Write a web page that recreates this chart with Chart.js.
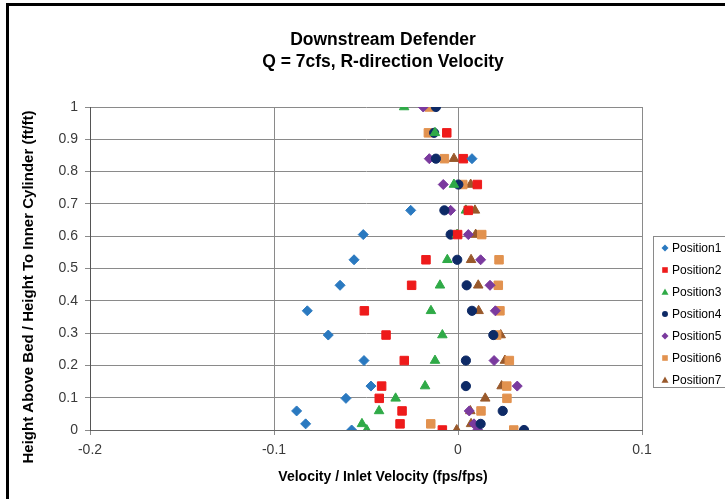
<!DOCTYPE html>
<html>
<head>
<meta charset="utf-8">
<script src="https://cdn.jsdelivr.net/npm/chart.js"></script>
<style>
html,body{margin:0;padding:0;background:#fff;}
canvas{display:block;}
</style>
</head>
<body>
<canvas id="c" width="725" height="499"></canvas>
<script>
// ---- Data ----
const heights = [1.0, 0.92, 0.84, 0.76, 0.68, 0.605, 0.527, 0.448, 0.369, 0.294, 0.215, 0.136, 0.098, 0.059, 0.019, 0];
const position1 = [null, null, 0.0076, null, -0.0257, -0.0515, -0.0565, -0.0641, -0.0819, -0.0705, -0.0511, -0.0473, -0.0609, -0.0877, -0.0828, -0.0578];
const position2 = [null, -0.0061, 0.0029, 0.0105, 0.0056, -0.0002, -0.0174, -0.0252, -0.0509, -0.0391, -0.0292, -0.0415, -0.0428, -0.0304, -0.0315, -0.0085];
const position3 = [-0.0293, -0.0125, null, -0.0022, 0.0043, -0.0005, -0.0058, -0.0098, -0.0147, -0.0085, -0.0125, -0.0179, -0.0339, -0.0429, -0.0522, -0.0496];
const position4 = [-0.012, -0.013, -0.012, 0.0002, -0.0074, -0.004, -0.0004, 0.0047, 0.0076, 0.0192, 0.0043, 0.0043, null, 0.0243, 0.0123, 0.0359];
const position5 = [-0.0189, null, -0.0156, -0.008, -0.004, 0.0056, 0.0123, 0.0174, 0.0203, null, 0.0196, 0.0322, null, 0.0061, 0.0087, 0.0107];
const position6 = [-0.0156, -0.0161, -0.0074, 0.0026, null, 0.0129, 0.0223, 0.0219, 0.0228, 0.021, 0.0279, 0.0265, 0.0266, 0.0125, -0.0148, 0.0303];
const position7 = [null, null, -0.0022, 0.0069, 0.0092, 0.0096, 0.0071, 0.011, 0.0112, 0.0232, 0.0255, 0.0237, 0.0148, 0.0067, 0.0071, -0.0007];
const seriesNames = ['Position1', 'Position2', 'Position3', 'Position4', 'Position5', 'Position6', 'Position7'];
const xTickLabels = ['-0.2', '-0.1', '0', '0.1'];
const yTickLabels = ['0', '0.1', '0.2', '0.3', '0.4', '0.5', '0.6', '0.7', '0.8', '0.9', '1'];
const titleLines = ['Downstream Defender', 'Q = 7cfs, R-direction Velocity'];
const xTitle = 'Velocity / Inlet Velocity (fps/fps)';
const yTitle = 'Height Above Bed / Height To Inner Cylinder (ft/ft)';

// ---- Styles ----
const seriesValues = [position1, position2, position3, position4, position5, position6, position7];
const styles = [
  {shape: 'rectRot', color: '#2A79C0', r: 5},
  {shape: 'rect', color: '#EE1B1B', r: 6},
  {shape: 'triangle', color: '#2FAA47', r: 5.5},
  {shape: 'circle', color: '#0E2A66', r: 4.6},
  {shape: 'rectRot', color: '#7A3A9E', r: 5},
  {shape: 'rect', color: '#E2924F', r: 6},
  {shape: 'triangle', color: '#99592B', r: 5.5}
];
const FONT = '"Liberation Sans", Arial, sans-serif';

const datasets = seriesNames.map((name, i) => ({
  label: name,
  data: heights.map((h, k) => seriesValues[i][k] === null ? null : {x: seriesValues[i][k], y: h}).filter(p => p),
  pointStyle: styles[i].shape,
  pointRadius: styles[i].r,
  pointHoverRadius: styles[i].r,
  backgroundColor: styles[i].color,
  borderColor: styles[i].color,
  borderWidth: 1,
  showLine: false
}));

function drawMarker(ctx, shape, x, y, s, color) {
  ctx.save();
  ctx.fillStyle = color;
  ctx.beginPath();
  if (shape === 'rectRot') {
    ctx.moveTo(x, y - s); ctx.lineTo(x + s, y); ctx.lineTo(x, y + s); ctx.lineTo(x - s, y);
  } else if (shape === 'rect') {
    ctx.rect(x - s * 0.8, y - s * 0.8, s * 1.6, s * 1.6);
  } else if (shape === 'triangle') {
    ctx.moveTo(x, y - s); ctx.lineTo(x + s, y + s * 0.75); ctx.lineTo(x - s, y + s * 0.75);
  } else {
    ctx.arc(x, y, s * 0.85, 0, Math.PI * 2);
  }
  ctx.closePath();
  ctx.fill();
  ctx.restore();
}

const decor = {
  id: 'decor',
  beforeDraw(chart) {
    const ctx = chart.ctx;
    ctx.save();
    ctx.fillStyle = '#ffffff';
    ctx.fillRect(0, 0, chart.width, chart.height);
    ctx.restore();
  },
  afterDraw(chart) {
    const ctx = chart.ctx;
    ctx.save();
    // outer frame (left and top visible)
    ctx.fillStyle = '#000';
    ctx.fillRect(6, 3, 3, chart.height);
    ctx.fillRect(6, 3, chart.width, 3);
    // titles
    ctx.fillStyle = '#000';
    ctx.textAlign = 'center';
    ctx.textBaseline = 'middle';
    ctx.font = 'bold 17.5px ' + FONT;
    ctx.fillText(titleLines[0], 383, 40);
    ctx.fillText(titleLines[1], 383, 62);
    // x axis title
    ctx.font = 'bold 14px ' + FONT;
    ctx.fillText(xTitle, 383, 477);
    // y axis title
    ctx.save();
    ctx.translate(29, 287);
    ctx.rotate(-Math.PI / 2);
    ctx.font = 'bold 15px ' + FONT;
    ctx.fillText(yTitle, 0, 0);
    ctx.restore();
    // legend
    ctx.strokeStyle = '#8a8a8a';
    ctx.lineWidth = 1;
    ctx.strokeRect(653.5, 236.5, 90, 151);
    ctx.textAlign = 'left';
    ctx.font = '12px ' + FONT;
    seriesNames.forEach((name, i) => {
      const y = 248 + i * 22;
      drawMarker(ctx, styles[i].shape, 665, y, 3.5, styles[i].color);
      ctx.fillStyle = '#000';
      ctx.fillText(name, 672, y + 1);
    });
    ctx.restore();
  }
};

new Chart(document.getElementById('c'), {
  type: 'scatter',
  data: {datasets},
  plugins: [decor],
  options: {
    responsive: false,
    animation: false,
    devicePixelRatio: 1,
    layout: {padding: {left: 0, right: 83, top: 107, bottom: 0}},
    plugins: {legend: {display: false}, tooltip: {enabled: false}, title: {display: false}},
    scales: {
      x: {
        type: 'linear', min: -0.2, max: 0.1,
        afterFit(s) { s.height = 69; },
        ticks: {stepSize: 0.1, padding: 7, color: '#3a3a3a', font: {family: FONT, size: 14},
          callback: (v, i) => xTickLabels[i]},
        grid: {color: '#8a8a8a', lineWidth: 1, tickLength: 5},
        border: {color: '#666', width: 1}
      },
      y: {
        type: 'linear', min: 0, max: 1,
        afterFit(s) { s.width = 90; },
        ticks: {stepSize: 0.1, padding: 7, color: '#3a3a3a', font: {family: FONT, size: 14},
          callback: (v, i) => yTickLabels[i]},
        grid: {color: '#8a8a8a', lineWidth: 1, tickLength: 5},
        border: {color: '#555', width: 1}
      }
    }
  }
});
</script>
</body>
</html>
